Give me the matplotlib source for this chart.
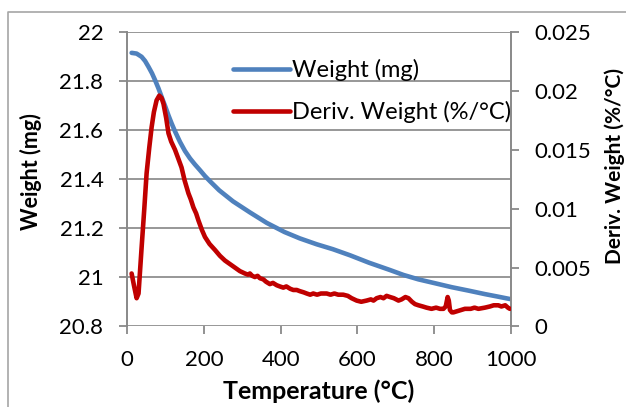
import matplotlib
matplotlib.use("Agg")
import matplotlib.pyplot as plt
from matplotlib.lines import Line2D

# ── data ─────────────────────────────────────────────────────────────────────
temp_w = [12, 25, 38, 47, 56, 65, 73, 82, 90, 100, 108, 116, 125, 138, 151,
          164, 177, 190, 203, 216, 240, 276, 320, 364, 410, 450, 494, 536,
          581, 630, 685, 720, 759, 800, 846, 890, 932, 965, 997]
weight = [21.915, 21.912, 21.899, 21.882, 21.858, 21.832, 21.804, 21.770,
          21.736, 21.695, 21.660, 21.628, 21.595, 21.552, 21.515, 21.485,
          21.460, 21.437, 21.413, 21.392, 21.355, 21.310, 21.265, 21.222,
          21.185, 21.159, 21.135, 21.115, 21.090, 21.060, 21.030, 21.010,
          20.992, 20.977, 20.960, 20.946, 20.932, 20.922, 20.912]

temp_d = [12, 18, 25, 30, 38, 45, 51, 58, 64, 70, 77, 84, 90, 95, 102, 108,
          115, 125, 133, 142, 150, 160, 166, 173, 180, 186, 195, 203, 215,
          229, 242, 255, 268, 281, 294, 307, 315, 320, 326, 333, 340, 346,
          355, 362, 372, 380, 390, 398, 407, 415, 425, 433, 442, 450, 460,
          468, 477, 485, 495, 505, 512, 520, 530, 540, 550, 563, 575, 585,
          598, 610, 624, 635, 642, 650, 660, 668, 676, 685, 695, 707, 715,
          725, 733, 742, 750, 759, 770, 780, 793, 805, 815, 824, 830, 835,
          838, 841, 846, 850, 860, 870, 880, 895, 905, 915, 932, 945, 955,
          967, 975, 985, 992, 997]
deriv = [0.0045, 0.0035, 0.0024, 0.0028, 0.0067, 0.0100, 0.0130, 0.0152,
         0.0169, 0.0182, 0.0192, 0.0196, 0.0194, 0.0189, 0.0177, 0.0164,
         0.0157, 0.0150, 0.0143, 0.0135, 0.0124, 0.0113, 0.0108, 0.0101,
         0.0096, 0.0090, 0.0082, 0.0076, 0.0070, 0.0065, 0.0060, 0.0056,
         0.0053, 0.0050, 0.0047, 0.0045, 0.0044, 0.0045, 0.0043, 0.0042,
         0.0043, 0.0041, 0.0040, 0.0038, 0.0036, 0.0037, 0.0035, 0.0034,
         0.0033, 0.0034, 0.0032, 0.0031, 0.0031, 0.0030, 0.0029, 0.0028,
         0.0027, 0.0028, 0.0027, 0.0028, 0.0028, 0.0028, 0.0027, 0.0028,
         0.0027, 0.0027, 0.0026, 0.0024, 0.0022, 0.0021, 0.0022, 0.0023,
         0.0022, 0.0024, 0.0025, 0.0024, 0.0026, 0.0025, 0.0024, 0.0022,
         0.0023, 0.0025, 0.0024, 0.0021, 0.0019, 0.0018, 0.0017, 0.0016,
         0.0015, 0.0016, 0.0015, 0.0015, 0.0017, 0.0025, 0.0022, 0.0014,
         0.0012, 0.0012, 0.0013, 0.0014, 0.0015, 0.0015, 0.0016, 0.0015,
         0.0016, 0.0017, 0.0018, 0.0018, 0.0017, 0.0018, 0.0016, 0.0015]

x_ticks = [0, 200, 400, 600, 800, 1000]
w_ticks = [20.8, 21, 21.2, 21.4, 21.6, 21.8, 22]
w_labels = ['20.8', '21', '21.2', '21.4', '21.6', '21.8', '22']
d_ticks = [0, 0.005, 0.01, 0.015, 0.02, 0.025]
d_labels = ['0', '0.005', '0.01', '0.015', '0.02', '0.025']

BLUE = '#4F81BD'
RED = '#C00000'
GRID = '#979797'
SPINE = '#898989'

plt.rcParams['font.family'] = ['Lato', 'DejaVu Sans']

fig = plt.figure(figsize=(6.26, 4.07), dpi=100)
ax = fig.add_axes([0.2029, 0.1978, 0.6134, 0.7236])
ax2 = ax.twinx()

# chart-area border (Excel style, only left/top fall inside the image)
fig.add_artist(Line2D([8/626, 8/626, 1.0], [0.0, 1 - 12/407, 1 - 12/407],
                      transform=fig.transFigure, color='#A6A6A6', lw=1.2))

l1, = ax.plot(temp_w, weight, color=BLUE, lw=3.3, solid_capstyle='round',
              label='Weight (mg)', zorder=3)
l2, = ax2.plot(temp_d, deriv, color=RED, lw=3.3, solid_capstyle='round',
               solid_joinstyle='round', label='Deriv. Weight (%/°C)', zorder=3)

ax.set_xlim(0, 1000)
ax.set_ylim(20.8, 22)
ax2.set_ylim(0, 0.025)
ax.set_xticks(x_ticks)
ax.set_yticks(w_ticks)
ax.set_yticklabels(w_labels)
ax2.set_yticks(d_ticks)
ax2.set_yticklabels(d_labels)

ax.grid(axis='y', color=GRID, lw=1.4)
ax.set_axisbelow(True)

for a in (ax, ax2):
    for s in a.spines.values():
        s.set_visible(False)
    a.tick_params(colors=SPINE, labelcolor='black', labelsize=16,
                  length=6, width=1.3, pad=11)
ax.spines['left'].set_visible(True)
ax.spines['left'].set_color(SPINE)
ax.spines['left'].set_linewidth(1.4)
ax2.spines['right'].set_visible(True)
ax2.spines['right'].set_color(SPINE)
ax2.spines['right'].set_linewidth(1.4)

# axis titles placed at their pixel centres in the reference
fig.text(319/626, 1 - 391/407, 'Temperature (°C)', fontsize=18,
         fontweight='bold', ha='center', va='center')
fig.text(31/626, 1 - 172/407, 'Weight (mg)', fontsize=15.5, fontweight='bold',
         rotation=90, ha='center', va='center')
fig.text(615/626, 1 - 166/407, 'Deriv. Weight (%/°C)', fontsize=15,
         fontweight='bold', rotation=90, ha='center', va='center')

ax2.legend(handles=[l1, l2], loc='upper left', bbox_to_anchor=(0.276, 0.908),
           frameon=False, fontsize=17, handlelength=2.4, handletextpad=0.1,
           labelspacing=0.85, borderpad=0, borderaxespad=0)

fig.savefig('out.png', dpi=100)
